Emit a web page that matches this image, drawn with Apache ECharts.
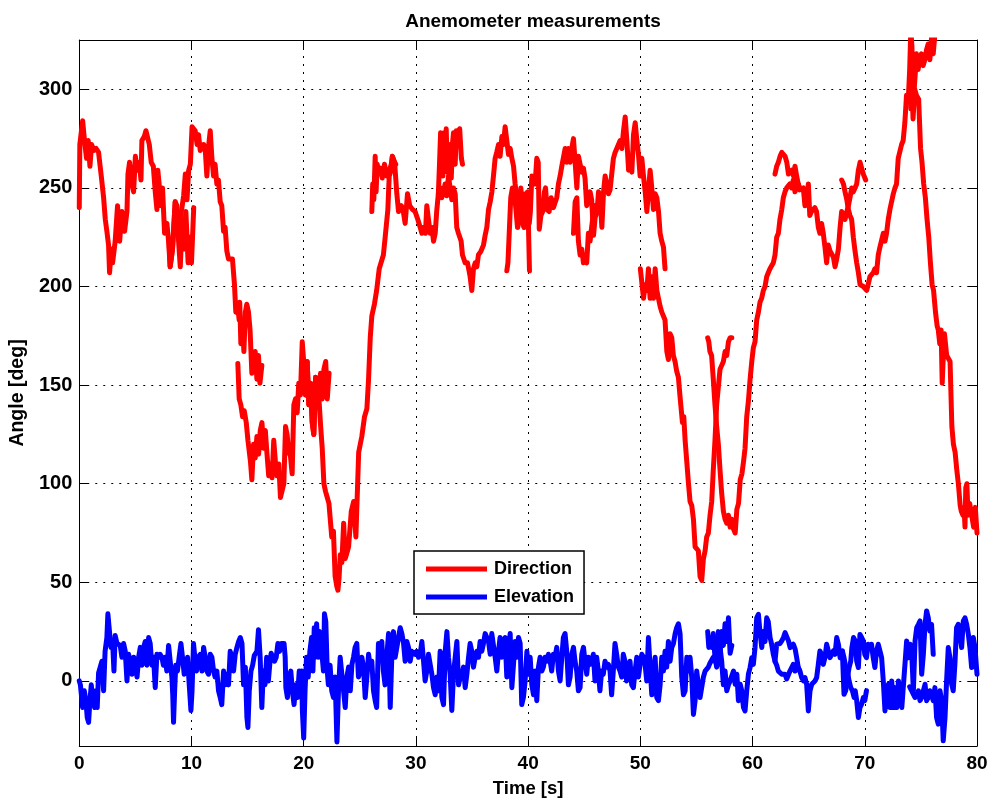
<!DOCTYPE html>
<html>
<head>
<meta charset="utf-8">
<script src="https://cdn.jsdelivr.net/npm/echarts@6/dist/echarts.min.js"></script>
<style>
html,body{margin:0;padding:0;background:#fff;}
#chart{width:993px;height:803px;}
</style>
</head>
<body>
<div id="chart"></div>
<script>
// ---- Tick values ----
const xTickValues = [0, 10, 20, 30, 40, 50, 60, 70, 80];
const yTickValues = [0, 50, 100, 150, 200, 250, 300];

// ---- Direction segments [time s, angle deg] ----
const dirSeg01 = [[0,240],[0.05,272],[0.3,284],[0.5,272],[0.65,265],[0.8,274],[0.95,261],[1.1,272],[1.3,269],[1.5,270],[1.72,268],[1.96,256],[2.17,245],[2.32,234],[2.46,228],[2.61,221],[2.7,207],[2.85,219],[2.97,212],[3.2,223],[3.41,241],[3.6,223],[3.8,238],[4.04,228],[4.25,238],[4.34,257],[4.48,263],[4.69,252],[4.84,248],[5.0,266],[5.17,259],[5.35,263],[5.5,254],[5.58,274],[5.79,276],[5.94,279],[6.09,280],[6.24,272],[6.41,263],[6.6,261],[6.77,248],[6.92,239],[7.0,259],[7.15,250],[7.3,241],[7.42,250],[7.6,227],[7.81,232],[7.96,223],[8.1,210],[8.31,219],[8.55,243],[8.7,241],[8.85,223],[9.0,210],[9.15,230],[9.3,219],[9.5,238],[9.7,212],[9.85,225],[10.0,212],[10.2,240]];
const dirSeg02 = [[8.0,223],[8.1,210],[8.31,219],[8.55,243],[8.75,236],[8.95,226],[9.1,238],[9.3,246],[9.45,257],[9.6,244],[9.75,259],[9.9,262],[10.05,281],[10.2,281],[10.33,279],[10.5,272],[10.63,277],[10.78,269],[10.93,268],[11.08,272],[11.22,270],[11.37,256],[11.5,270],[11.67,279],[11.82,265],[11.97,256],[12.1,262],[12.26,252],[12.4,254],[12.56,243],[12.7,241],[12.86,228],[13.0,230],[13.15,218],[13.3,214],[13.45,213],[13.65,214],[13.83,201],[13.95,187],[14.1,191],[14.25,183],[14.3,192],[14.4,171],[14.55,182],[14.67,167],[14.8,187],[14.93,191],[15.08,187],[15.22,178],[15.38,156],[15.53,157],[15.68,167],[15.83,153],[15.97,165],[16.1,151],[16.27,160]];
const dirSeg03 = [[14.13,161],[14.25,143],[14.4,140],[14.55,134],[14.7,137],[14.88,131],[15.03,122],[15.15,121],[15.26,111],[15.38,102],[15.53,120],[15.68,113],[15.83,124],[15.98,115],[16.13,127],[16.28,131],[16.43,118],[16.58,127],[16.73,115],[16.88,104],[17.03,110],[17.18,103],[17.33,122],[17.48,111],[17.63,104],[17.78,110],[17.93,93],[18.08,92],[18.23,100],[18.38,129],[18.52,125],[18.67,116],[18.82,114],[18.97,105],[19.12,140],[19.27,143],[19.42,136],[19.56,151],[19.71,145],[19.87,172],[20.0,162],[20.16,145],[20.31,162],[20.46,140],[20.61,151],[20.76,131],[20.9,125],[21.06,154],[21.2,154],[21.36,143],[21.5,156],[21.65,143],[21.8,158],[21.96,162],[22.1,143],[22.26,156]];
const dirSeg04 = [[20.0,162],[20.16,145],[20.31,162],[20.46,140],[20.61,151],[20.76,131],[20.9,125],[21.06,154],[21.2,150],[21.36,143],[21.5,130],[21.65,118],[21.8,100],[21.95,96],[22.1,93],[22.25,90],[22.4,89],[22.5,73],[22.65,76],[22.8,53],[22.95,48],[23.05,46],[23.15,52],[23.26,64],[23.4,60],[23.56,80],[23.7,62],[23.85,65],[24.0,68],[24.24,86],[24.45,91],[24.65,73],[24.9,116],[25.18,124],[25.42,134],[25.63,138],[25.78,153],[25.93,174],[26.07,185],[26.3,191],[26.5,198],[26.73,209],[26.9,210],[27.1,216],[27.26,225],[27.5,239],[27.62,256],[27.8,259],[27.9,266],[28.1,263],[28.2,262]];
const dirSeg05 = [[26.07,238],[26.15,252],[26.25,244],[26.37,266],[26.45,248],[26.55,262],[26.7,258],[26.85,260],[27.0,255],[27.2,262],[27.4,256],[27.6,258],[27.8,262],[27.9,266],[28.1,263],[28.3,247],[28.45,238],[28.7,241],[28.85,239],[29.04,232],[29.25,247],[29.45,241],[29.7,239],[29.93,238],[30.17,234],[30.38,230],[30.53,227],[30.7,230],[30.85,227],[30.97,241],[31.12,234],[31.27,227],[31.42,230],[31.57,223],[31.72,227],[31.85,238],[32.0,247],[32.1,262],[32.2,278],[32.3,268],[32.4,256],[32.5,278],[32.6,265],[32.7,280],[32.8,258],[32.95,272],[33.05,262],[33.15,255],[33.25,272],[33.35,278],[33.5,262],[33.6,279],[33.75,276],[33.9,280],[34.05,265],[34.15,262]];
const dirSeg06 = [[32.0,247],[32.17,250],[32.3,245],[32.46,248],[32.6,252],[32.75,246],[32.9,256],[33.05,250],[33.2,244],[33.35,250],[33.5,247],[33.64,230],[33.79,227],[34.03,223],[34.15,216],[34.39,212],[34.6,212],[34.83,205],[34.98,198],[35.13,209],[35.28,212],[35.43,210],[35.57,216],[35.8,218],[36.02,221],[36.17,226],[36.32,230],[36.47,239],[36.62,243],[36.77,248],[36.91,256],[37.06,265],[37.2,268],[37.36,272],[37.5,266],[37.66,276],[37.8,272],[37.95,281],[38.1,274],[38.25,267],[38.4,270],[38.55,265],[38.7,261],[38.84,252],[39.0,245],[39.08,230],[39.2,234],[39.35,248],[39.5,246],[39.64,230],[39.79,247],[39.97,248],[40.05,225],[40.12,208]];
const dirSeg07 = [[38.1,208],[38.2,212],[38.3,225],[38.45,245],[38.6,250],[38.75,248],[38.9,240],[39.05,230],[39.2,244],[39.35,250],[39.5,232],[39.64,230],[39.79,246],[39.95,240],[40.1,232],[40.2,238],[40.33,256],[40.5,257],[40.62,252],[40.77,265],[40.9,263],[40.99,229],[41.14,236],[41.3,238],[41.45,248],[41.55,250],[41.69,239],[41.87,238],[42.05,245],[42.25,240],[42.41,241],[42.55,245],[42.7,252],[42.85,256],[43.0,261],[43.15,261],[43.3,270],[43.45,263],[43.59,270],[43.75,263],[43.89,270],[44.04,275],[44.19,263],[44.34,250],[44.48,266],[44.63,265],[44.78,258],[44.93,260],[45.07,255],[45.22,241],[45.37,241],[45.52,248],[45.66,244],[45.83,226],[45.97,235],[46.13,238]];
const dirSeg08 = [[44.04,227],[44.19,243],[44.34,245],[44.48,223],[44.63,216],[44.78,219],[44.93,212],[45.07,214],[45.22,212],[45.37,227],[45.52,223],[45.66,230],[45.83,238],[45.97,241],[46.13,237],[46.27,248],[46.42,244],[46.57,230],[46.72,248],[46.86,256],[47.0,252],[47.16,247],[47.3,249],[47.45,250],[47.6,265],[47.75,268],[47.9,267],[48.05,272],[48.2,274],[48.35,270],[48.5,279],[48.65,286],[48.8,274],[48.95,259],[49.1,262],[49.24,258],[49.39,277],[49.54,283],[49.69,274],[49.83,267],[49.98,256],[50.13,265],[50.28,256],[50.43,248],[50.58,238],[50.72,238],[50.87,259],[51.02,250],[51.17,239],[51.32,247],[51.47,245],[51.62,238],[51.76,227],[51.91,223],[52.06,220],[52.2,209]];
const dirSeg09 = [[50.0,209],[50.13,210],[50.28,194],[50.43,201],[50.58,198],[50.72,209],[50.87,194],[51.02,205],[51.17,194],[51.32,209],[51.47,198],[51.61,194],[51.76,190],[51.91,187],[52.06,187],[52.2,183],[52.36,167],[52.5,163],[52.65,176],[52.8,174],[52.94,165],[53.09,162],[53.24,157],[53.39,154],[53.54,144],[53.65,145],[53.75,131],[53.87,134],[53.99,122],[54.14,111],[54.29,100],[54.43,91],[54.58,89],[54.73,82],[54.88,68],[55.03,68],[55.17,66],[55.32,53],[55.47,51],[55.62,62],[55.77,66],[55.91,73],[56.06,75],[56.21,84],[56.36,91],[56.5,107],[56.65,122],[56.8,140],[56.95,149],[57.1,158],[57.25,160],[57.4,162],[57.55,167],[57.7,165],[57.85,172],[58.0,174],[58.15,174]];
const dirSeg10 = [[56.0,174],[56.1,172],[56.2,167],[56.35,165],[56.5,153],[56.65,140],[56.8,129],[56.95,120],[57.1,107],[57.25,95],[57.4,86],[57.55,82],[57.7,80],[57.85,84],[58.0,78],[58.15,82],[58.3,77],[58.45,75],[58.6,87],[58.75,90],[58.9,102],[59.05,105],[59.19,111],[59.33,118],[59.48,134],[59.63,142],[59.78,153],[59.93,162],[60.07,169],[60.22,172],[60.37,183],[60.52,187],[60.66,192],[60.81,194],[60.96,198],[61.11,200],[61.26,205],[61.4,207],[61.55,209],[61.7,210],[61.85,212],[62.0,216],[62.15,225],[62.3,227],[62.44,234],[62.6,239],[62.74,245],[62.89,248],[63.04,250],[63.2,250],[63.33,252],[63.48,250],[63.63,254],[63.78,248],[63.93,247],[64.07,252],[64.2,250]];
const dirSeg11 = [[62.0,257],[62.15,261],[62.3,263],[62.45,266],[62.6,268],[62.75,268],[62.9,266],[63.05,263],[63.2,257],[63.35,256],[63.5,259],[63.65,256],[63.78,261],[63.93,256],[64.07,252],[64.2,249],[64.35,250],[64.52,250],[64.67,241],[64.82,245],[64.97,252],[65.1,236],[65.25,238],[65.4,238],[65.55,240],[65.7,238],[65.86,230],[66.0,227],[66.15,232],[66.3,227],[66.45,220],[66.6,212],[66.75,221],[66.9,218],[67.05,219],[67.2,215],[67.35,210],[67.5,214],[67.65,219],[67.8,230],[67.94,238],[68.1,236],[68.24,234],[68.4,238],[68.54,241],[68.68,245],[68.83,250],[68.98,248],[69.13,248],[69.28,252],[69.43,259],[69.58,263],[69.72,260],[69.87,257],[70.0,256],[70.08,254]];
const dirSeg12 = [[67.94,254],[68.1,252],[68.24,248],[68.4,244],[68.54,239],[68.68,236],[68.83,234],[68.98,225],[69.13,218],[69.28,212],[69.43,207],[69.58,201],[69.72,201],[69.87,200],[70.0,201],[70.17,198],[70.3,201],[70.46,205],[70.6,205],[70.76,207],[70.9,209],[71.05,207],[71.2,216],[71.35,220],[71.5,221],[71.65,227],[71.8,223],[71.94,227],[72.09,234],[72.24,239],[72.4,238],[72.54,247],[72.69,250],[72.83,252],[72.98,265],[73.13,265],[73.28,272],[73.42,274],[73.57,283],[73.72,297],[73.87,294],[74.0,310],[74.1,330],[74.2,322],[74.3,292],[74.4,300],[74.5,308],[74.6,318],[74.75,310],[74.9,315],[75.05,318],[75.2,312],[75.35,315],[75.5,320],[75.65,323],[75.8,315],[75.95,326],[76.1,318],[76.25,328]];
const dirSeg13 = [[74.0,305],[74.1,290],[74.2,302],[74.3,285],[74.45,300],[74.6,297],[74.8,295],[74.97,270],[75.1,263],[75.25,252],[75.4,245],[75.55,234],[75.7,225],[75.85,212],[76.0,201],[76.13,198],[76.3,187],[76.45,180],[76.55,178],[76.68,171],[76.8,178],[76.9,151],[77.0,165],[77.1,176],[77.3,165],[77.45,164],[77.6,162],[77.76,129],[77.9,120],[78.05,116],[78.2,107],[78.34,100],[78.5,89],[78.6,86],[78.75,84],[78.85,88],[78.93,78],[79.0,98],[79.1,100],[79.2,84],[79.35,90],[79.5,91],[79.7,78],[79.85,88],[80.0,75]];

// ---- Elevation segments [time s, angle deg] ----
const elevSeg01 = [[0,0],[0.1,-2],[0.3,-13.5],[0.45,-5],[0.59,-10],[0.71,-18.6],[0.83,-21],[0.95,-10],[1.07,-2],[1.2,-10],[1.37,-13.5],[1.48,-5],[1.6,-13.5],[1.72,4],[1.87,5],[2.02,10],[2.17,-5],[2.3,15],[2.46,22],[2.55,34],[2.7,33],[2.82,17],[2.97,20],[3.09,5],[3.2,23],[3.36,19],[3.5,20],[3.65,18],[3.8,12],[3.95,19],[4.1,15],[4.25,0],[4.4,13.5],[4.55,14],[4.7,3.4],[4.85,12],[5.0,7],[5.15,2],[5.29,12],[5.44,17],[5.6,8],[5.73,17],[5.88,20],[6.03,8],[6.18,22],[6.32,19],[6.47,8],[6.62,12],[6.77,-3.4],[6.92,13.5],[7.07,12],[7.2,13.5],[7.36,12],[7.5,8],[7.65,12],[7.8,5],[7.96,18],[8.1,17],[8.25,2],[8.33,-7],[8.4,-21],[8.5,-5],[8.6,8],[8.75,5],[8.9,12],[9.06,19],[9.2,12],[9.35,3.4],[9.5,7],[9.65,12],[9.8,-2],[9.95,-15],[10.05,-5],[10.18,19],[10.3,12],[10.45,5],[10.6,12],[10.78,13.5],[10.93,5],[11.08,17],[11.22,12],[11.37,5],[11.52,3.4],[11.67,13.5],[11.82,12],[11.97,5],[12.1,2],[12.26,5],[12.41,-5],[12.56,-8.4],[12.7,-12],[12.86,5],[13.0,-2],[13.15,3.4],[13.3,-2],[13.45,15],[13.6,12],[13.75,5],[13.9,13.5],[14.05,17],[14.2,20],[14.35,22],[14.5,19],[14.64,-2],[14.8,7],[14.94,-18.6],[15.03,-23.6],[15.15,-5],[15.3,5],[15.45,8],[15.6,13],[15.83,15],[15.97,26],[16.12,12],[16.27,-13.5],[16.4,5],[16.55,-2],[16.7,12],[16.85,0],[17.0,10],[17.1,14],[17.25,15],[17.4,10],[17.55,12],[17.7,19],[17.85,15],[18.0,19],[18.1,20],[18.25,19],[18.35,12],[18.41,-3.4],[18.55,-8.4],[18.7,2],[18.85,5],[18.99,-5],[19.14,-12],[19.3,-2],[19.45,-8.4],[19.6,5],[19.75,2],[19.82,5],[19.88,-15],[20.0,-29],[20.12,-5],[20.25,12],[20.4,2],[20.55,15],[20.7,22],[20.82,5],[20.94,27],[21.05,12],[21.15,29],[21.28,12],[21.4,25],[21.52,20],[21.65,12],[21.76,5],[21.85,34],[21.97,30],[22.1,5],[22.2,-2],[22.35,8],[22.5,-5],[22.65,-8.4],[22.8,2],[22.96,-31],[23.1,-5],[23.25,12],[23.4,3.4],[23.55,-5],[23.7,-13.5],[23.85,2],[24.0,7],[24.15,-5],[24.3,8.4],[24.44,12],[24.58,17],[24.73,19],[24.88,2],[25.03,5],[25.18,12],[25.33,7],[25.48,-8.4],[25.63,2],[25.78,13.5],[25.93,7],[26.07,10],[26.22,-5],[26.37,-10],[26.5,-13.5],[26.66,19],[26.8,12],[26.96,20],[27.1,5],[27.25,-2],[27.4,12],[27.56,24],[27.71,-13.5],[27.85,12],[28.0,25],[28.15,12],[28.3,12],[28.45,22],[28.6,27],[28.75,24],[28.9,19],[29.04,10],[29.19,20],[29.34,17],[29.49,10],[29.63,15],[29.78,15],[29.93,13.5],[30.08,15],[30.23,12],[30.38,13.5],[30.53,20],[30.68,10],[30.82,0],[30.97,5],[31.12,13.5],[31.27,13.5],[31.42,3.4],[31.57,-3.4],[31.72,-7],[31.87,2],[32.01,-5],[32.16,15],[32.31,-8.4],[32.46,-12],[32.61,15],[32.76,25],[32.9,12],[33.05,3.4],[33.2,-15],[33.35,3.4],[33.5,12],[33.65,20],[33.8,-2],[33.95,2],[34.1,3.4],[34.24,7],[34.39,-3.4],[34.54,3.4],[34.69,12],[34.83,19],[34.98,15],[35.13,7],[35.28,12],[35.43,15],[35.58,12],[35.72,20],[35.87,15],[36.02,19],[36.17,24],[36.32,25],[36.47,20],[36.62,13.5],[36.76,24],[36.91,25],[37.06,12],[37.21,5],[37.36,15],[37.5,22],[37.65,12],[37.8,20],[37.95,22],[38.1,2],[38.25,15],[38.4,24],[38.55,-3.4],[38.7,-3.4],[38.84,20],[38.99,12],[39.14,22],[39.29,19],[39.43,-12],[39.58,-8.4],[39.73,0],[39.89,15],[40.04,3.4],[40.18,12],[40.33,-2],[40.48,-7],[40.63,5],[40.77,-10],[40.92,7],[41.07,12],[41.22,5],[41.36,7],[41.51,12],[41.66,10],[41.81,13.5],[41.96,10],[42.1,5],[42.25,13.5],[42.4,12],[42.55,17],[42.7,5],[42.85,0],[43.0,12],[43.14,22],[43.29,24],[43.44,15],[43.59,-2],[43.74,2],[43.89,13.5],[44.04,17],[44.18,10],[44.33,5],[44.48,-5],[44.63,-3.4],[44.78,13.5],[44.93,17],[45.07,10],[45.22,3.4],[45.37,12],[45.52,8.4],[45.67,10],[45.81,13.5],[45.96,0],[46.11,12],[46.26,5],[46.4,-5],[46.55,5],[46.7,3.4],[46.85,10],[47.0,7],[47.15,8.4],[47.3,5],[47.44,-7],[47.59,5],[47.74,19],[47.89,13.5],[48.04,7],[48.19,5],[48.34,2],[48.48,13.5],[48.63,10],[48.78,0],[48.93,3.4],[49.08,10],[49.23,-2],[49.38,-3.4],[49.53,5],[49.68,12],[49.83,2],[49.98,8.4],[50.13,13.5],[50.28,12],[50.42,8.4],[50.57,0],[50.72,22],[50.87,7],[51.02,-7],[51.17,5],[51.32,12],[51.46,-8.4],[51.61,-10],[51.76,-2],[51.91,12],[52.06,5],[52.2,15],[52.35,7],[52.5,20],[52.65,10],[52.8,17],[52.95,19],[53.1,24],[53.24,27],[53.39,29],[53.54,24],[53.69,2],[53.84,-7],[53.99,-5],[54.14,12],[54.29,5],[54.43,12],[54.58,2],[54.73,-17],[54.88,-10],[55.02,5],[55.17,5],[55.32,-8.4],[55.47,-8.4],[55.62,2],[55.77,5],[55.91,5],[56.06,7],[56.2,9],[56.36,10],[56.5,12],[56.65,10],[56.8,12],[56.95,25],[57.1,14],[57.25,25],[57.4,18],[57.55,29],[57.7,20],[57.85,32],[58.0,14],[58.15,18]];
const elevSeg02 = [[56.0,25],[56.1,17],[56.2,22],[56.36,17],[56.5,24],[56.65,12],[56.8,7],[56.95,10],[57.1,17],[57.25,10],[57.4,-2],[57.55,5],[57.7,-5],[57.85,-2],[58.0,0],[58.15,0],[58.3,5],[58.45,-1.7],[58.6,3.4],[58.74,-10],[58.9,-1.7],[59.04,-5],[59.19,-13.5],[59.33,-15.2],[59.48,-5],[59.63,3.4],[59.78,6.8],[59.93,11.8],[60.07,8.4],[60.22,17],[60.37,32],[60.52,33.8],[60.66,25],[60.82,17],[60.96,25],[61.11,20],[61.26,32],[61.4,30],[61.56,22],[61.7,18.6],[61.85,13.5],[62.0,10],[62.15,8],[62.3,5],[62.44,5],[62.6,3.4],[62.74,3],[62.89,3.4],[63.04,1],[63.2,0.8],[63.33,5],[63.48,5],[63.63,8.4],[63.78,5],[63.93,8.4],[64.07,6.8],[64.2,5]];
const elevSeg03 = [[62.0,10],[62.15,18.6],[62.3,18.6],[62.45,19],[62.6,20.3],[62.75,22],[62.9,24.5],[63.05,23.6],[63.2,20.3],[63.35,16.9],[63.5,16.9],[63.63,18.6],[63.8,16],[63.93,11.8],[64.07,6.8],[64.22,5],[64.38,1.7],[64.53,0],[64.67,1.7],[64.82,-1.7],[64.97,-15.2],[65.12,-5],[65.27,-1.7],[65.42,-1.7],[65.56,0],[65.71,1.7],[65.86,8.4],[66.0,15.2],[66.15,13.5],[66.3,8.4],[66.45,11.8],[66.6,18.6],[66.75,15.2],[66.9,11.8],[67.05,13.5],[67.2,15.2],[67.35,13.5],[67.5,22],[67.65,18.6],[67.8,11.8],[68.0,15.2],[68.15,11.8],[68.3,6.8],[68.45,5],[68.6,0],[68.75,-3.4],[68.9,-5],[69.05,-8.4],[69.15,-5],[69.28,-10],[69.43,-18.6],[69.57,-13.5],[69.72,-11.8],[69.87,-8.4],[70.0,-10],[70.15,-5]];
const elevSeg04 = [[68.0,15.2],[68.15,-6.8],[68.3,-5],[68.45,1.7],[68.6,6.8],[68.75,10],[68.85,16.9],[69.0,22],[69.15,20.3],[69.28,10],[69.43,6.8],[69.57,23.6],[69.72,22],[69.87,20.3],[70.0,13.5],[70.15,11.8],[70.3,18.6],[70.45,16.9],[70.6,18.6],[70.75,11.8],[70.9,6.8],[71.05,15.2],[71.2,18.6],[71.35,15.2],[71.5,11.8],[71.65,0],[71.8,-15.2],[71.95,-5],[72.1,-1.7],[72.25,-13.5],[72.4,0],[72.55,-13.5],[72.7,-3.4],[72.85,-13.5],[73.0,0],[73.15,-5],[73.3,-13.5],[73.45,-1.7],[73.6,10],[73.73,20.3],[73.9,11.8],[74.05,18.6],[74.2,11.8],[74.33,-5],[74.48,20.3],[74.63,27],[74.78,28.7],[74.92,30.4],[75.07,3.4],[75.22,13.5],[75.37,28.7],[75.51,35.5],[75.66,32],[75.8,25.3],[75.95,28.7],[76.1,13.5]];
const elevSeg05 = [[74.0,-3],[74.18,-5],[74.33,-6.8],[74.48,-8.4],[74.63,-8.4],[74.78,-5],[74.92,-10],[75.07,-8.4],[75.22,-5],[75.37,-1.7],[75.51,-10],[75.66,-8.4],[75.8,-5],[75.95,-6.8],[76.1,-10],[76.25,-3.4],[76.4,-18.6],[76.55,-21.9],[76.7,-5],[76.85,-10],[76.99,-30.4],[77.15,-18.6],[77.29,0],[77.44,16.9],[77.59,11.8],[77.74,-1.7],[77.88,-5],[78.03,8.4],[78.18,27],[78.33,28.7],[78.48,23.6],[78.63,16.9],[78.78,30.4],[78.93,32],[79.08,28.7],[79.23,23.6],[79.37,16.9],[79.52,6.8],[79.67,22],[79.82,16.9],[80.0,3.4]];

const directionSegments = [dirSeg01, dirSeg02, dirSeg03, dirSeg04, dirSeg05, dirSeg06, dirSeg07, dirSeg08, dirSeg09, dirSeg10, dirSeg11, dirSeg12, dirSeg13];
const elevationSegments = [elevSeg01, elevSeg02, elevSeg03, elevSeg04, elevSeg05];

const FONT = '"Liberation Sans", Arial, Helvetica, sans-serif';
const LW = 5;

function makeSeries(name, color, segs) {
  return segs.map(seg => ({
    name: name,
    type: 'line',
    xAxisIndex: 0,
    yAxisIndex: 0,
    data: seg,
    showSymbol: false,
    symbol: 'none',
    clip: true,
    animation: false,
    color: color,
    lineStyle: { color: color, width: LW, cap: 'round', join: 'round' }
  }));
}

const chart = echarts.init(document.getElementById('chart'), null, { renderer: 'canvas' });
const grid = { left: 79, right: 16, top: 40, bottom: 57, containLabel: false };
const splitStyle = { color: '#000', width: 1, type: [2, 6] };
const axisLineStyle = { color: '#000', width: 1 };

chart.setOption({
  backgroundColor: '#fff',
  animation: false,
  title: {
    text: 'Anemometer measurements',
    left: 528, top: 7, textAlign: 'center',
    textStyle: { fontFamily: FONT, fontSize: 19, fontWeight: 'bold', color: '#000' }
  },
  legend: {
    data: ['Direction', 'Elevation'],
    orient: 'vertical',
    left: 414, top: 551,
    padding: [9, 10, 8, 12],
    itemGap: 10,
    itemWidth: 61, itemHeight: 5,
    icon: 'rect',
    selectedMode: false,
    backgroundColor: '#fff',
    borderColor: '#000', borderWidth: 1.5,
    textStyle: { fontFamily: FONT, fontSize: 18, fontWeight: 'bold', color: '#000', lineHeight: 18, padding: [0, 0, 0, 2] }
  },
  grid: grid,
  xAxis: [{
    type: 'value', min: 0, max: 80, interval: 10, position: 'bottom',
    axisLine: { show: true, onZero: false, lineStyle: axisLineStyle },
    axisTick: { show: true, inside: true, length: 9, lineStyle: axisLineStyle },
    axisLabel: { show: true, margin: 8, fontFamily: FONT, fontSize: 19, fontWeight: 'bold', color: '#000',
                 customValues: xTickValues },
    splitLine: { show: true, lineStyle: splitStyle },
    name: 'Time [s]', nameLocation: 'middle', nameGap: 33,
    nameTextStyle: { fontFamily: FONT, fontSize: 18.5, fontWeight: 'bold', color: '#000' }
  }, {
    type: 'value', min: 0, max: 80, interval: 10, position: 'top',
    axisLine: { show: true, onZero: false, lineStyle: axisLineStyle },
    axisTick: { show: true, inside: true, length: 9, lineStyle: axisLineStyle },
    axisLabel: { show: false },
    splitLine: { show: false }
  }],
  yAxis: [{
    type: 'value', min: -33, max: 325, position: 'left',
    axisLine: { show: true, onZero: false, lineStyle: axisLineStyle },
    axisTick: { show: true, inside: true, length: 9, lineStyle: axisLineStyle, customValues: yTickValues },
    axisLabel: { show: true, margin: 7, fontFamily: FONT, fontSize: 20, fontWeight: 'bold', color: '#000',
                 customValues: yTickValues },
    splitLine: { show: true, lineStyle: splitStyle },
    name: 'Angle [deg]', nameLocation: 'middle', nameGap: 50, nameRotate: 90,
    nameTextStyle: { fontFamily: FONT, fontSize: 19.5, fontWeight: 'bold', color: '#000' }
  }, {
    type: 'value', min: -33, max: 325, position: 'right',
    axisLine: { show: true, onZero: false, lineStyle: axisLineStyle },
    axisTick: { show: true, inside: true, length: 9, lineStyle: axisLineStyle, customValues: yTickValues },
    axisLabel: { show: false },
    splitLine: { show: false }
  }],
  series: [].concat(
    makeSeries('Direction', '#ff0000', directionSegments),
    makeSeries('Elevation', '#0000ff', elevationSegments)
  )
});
</script>
</body>
</html>
